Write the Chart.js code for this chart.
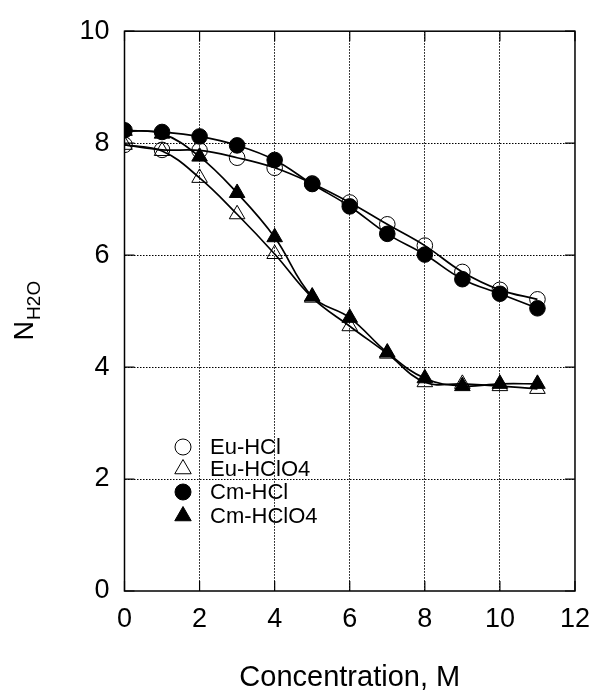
<!DOCTYPE html>
<html>
<head>
<meta charset="utf-8">
<script src="https://cdn.jsdelivr.net/npm/chart.js@4/dist/chart.umd.min.js"></script>
<style>
  html, body { margin: 0; padding: 0; background: #fff; }
  #wrap { width: 602px; height: 692px; }
</style>
</head>
<body>
<div id="wrap"><canvas id="chart" width="602" height="692"></canvas></div>
<script>
const concentration = [0, 1, 2, 3, 4, 5, 6, 7, 8, 9, 10, 11];
const euHCl   = [7.97, 7.88, 7.87, 7.74, 7.56, 7.28, 6.94, 6.55, 6.17, 5.70, 5.38, 5.21];
const euHClO4 = [7.97, 7.86, 7.38, 6.73, 6.02, 5.24, 4.73, 4.24, 3.73, 3.70, 3.66, 3.61];
const cmHCl   = [8.23, 8.20, 8.12, 7.96, 7.70, 7.27, 6.87, 6.38, 6.01, 5.57, 5.31, 5.05];
const cmHClO4 = [8.22, 8.17, 7.76, 7.11, 6.32, 5.26, 4.88, 4.26, 3.80, 3.66, 3.70, 3.70];
const xTicks = [0, 2, 4, 6, 8, 10, 12];
const yTicks = [0, 2, 4, 6, 8, 10];

const FONT = "'Liberation Sans', Arial, Helvetica, sans-serif";

function pts(vals) {
  return concentration.map((c, i) => ({ x: c, y: vals[i] }));
}

// label, values, marker style, filled?, draw order (lower = on top)
const series = [
  { label: 'Eu-HCl',   vals: euHCl,   style: 'circle',   filled: false, order: 4 },
  { label: 'Eu-HClO4', vals: euHClO4, style: 'triangle', filled: false, order: 3 },
  { label: 'Cm-HCl',   vals: cmHCl,   style: 'circle',   filled: true,  order: 2 },
  { label: 'Cm-HClO4', vals: cmHClO4, style: 'triangle', filled: true,  order: 1 }
];

const datasets = series.map(s => ({
  label: s.label,
  data: pts(s.vals),
  showLine: true,
  tension: 0.4,
  borderColor: '#000',
  borderWidth: 1.7,
  pointStyle: s.style,
  pointRadius: s.style === 'circle' ? 7.8 : 9,
  pointBorderWidth: 1,
  pointBorderColor: '#000',
  pointBackgroundColor: s.filled ? '#000' : 'rgba(0,0,0,0)',
  order: s.order
}));

// frame, inward ticks, y title and legend
const extras = {
  id: 'extras',
  afterDraw(chart) {
    const ctx = chart.ctx;
    const a = chart.chartArea;
    const xs = chart.scales.x, ys = chart.scales.y;
    ctx.save();
    ctx.strokeStyle = '#000';
    ctx.lineWidth = 1.5;
    ctx.strokeRect(a.left, a.top, a.right - a.left, a.bottom - a.top);
    ctx.lineWidth = 1.2;
    ctx.beginPath();
    yTicks.forEach(v => {
      const y = ys.getPixelForValue(v);
      ctx.moveTo(a.left, y); ctx.lineTo(a.left + 10, y);
      ctx.moveTo(a.right, y); ctx.lineTo(a.right - 10, y);
    });
    xTicks.forEach(v => {
      const x = xs.getPixelForValue(v);
      ctx.moveTo(x, a.bottom); ctx.lineTo(x, a.bottom - 10);
      ctx.moveTo(x, a.top); ctx.lineTo(x, a.top + 10);
    });
    ctx.stroke();

    // y axis title: N with subscript H2O
    ctx.fillStyle = '#000';
    ctx.textBaseline = 'alphabetic';
    ctx.font = '27px ' + FONT;
    const wN = ctx.measureText('N').width;
    ctx.font = '19px ' + FONT;
    const wS = ctx.measureText('H2O').width;
    const cy = (a.top + a.bottom) / 2;
    ctx.translate(33, cy + (wN + wS) / 2);
    ctx.rotate(-Math.PI / 2);
    ctx.font = '27px ' + FONT;
    ctx.fillText('N', 0, 0);
    ctx.font = '19px ' + FONT;
    ctx.fillText('H2O', wN + 1, 7);
    ctx.setTransform(1, 0, 0, 1, 0, 0);

    // legend inside the plot
    const rows = [447, 469, 492, 516];
    ctx.font = '22px ' + FONT;
    ctx.textBaseline = 'middle';
    series.forEach((s, i) => {
      ctx.fillStyle = s.filled ? '#000' : '#fff';
      ctx.strokeStyle = '#000';
      ctx.lineWidth = 1;
      Chart.helpers.drawPoint(ctx, {
        pointStyle: s.style,
        radius: s.style === 'circle' ? 8 : 9.5,
        rotation: 0,
        borderWidth: 1
      }, 183, rows[i]);
      ctx.fillStyle = '#000';
      ctx.fillText(s.label, 210, rows[i] + 1);
    });
    ctx.restore();
  }
};

new Chart(document.getElementById('chart'), {
  type: 'scatter',
  data: { datasets },
  plugins: [extras],
  options: {
    responsive: false,
    animation: false,
    layout: { padding: { top: 25, right: 19, left: 0, bottom: 0 } },
    plugins: { legend: { display: false }, tooltip: { enabled: false } },
    scales: {
      x: {
        type: 'linear', min: 0, max: 12,
        afterFit(scale) { scale.height = 101; },
        afterBuildTicks(scale) { scale.ticks = xTicks.map(v => ({ value: v })); },
        ticks: { color: '#000', font: { family: FONT, size: 27 }, padding: 12, maxRotation: 0 },
        grid: {
          color: c => (c.tick.value > 0 && c.tick.value < 12) ? '#000' : 'rgba(0,0,0,0)',
          lineWidth: 1, drawTicks: false
        },
        border: { display: false, dash: [1.5, 1.5] },
        title: {
          display: true, text: 'Concentration, M', color: '#000',
          font: { family: FONT, size: 29, lineHeight: 1 }, padding: 0
        }
      },
      y: {
        type: 'linear', min: 0, max: 10,
        afterFit(scale) { scale.width = 124.5; },
        afterBuildTicks(scale) { scale.ticks = yTicks.map(v => ({ value: v })); },
        ticks: { color: '#000', font: { family: FONT, size: 27 }, padding: 15 },
        grid: {
          color: c => (c.tick.value > 0 && c.tick.value < 10) ? '#000' : 'rgba(0,0,0,0)',
          lineWidth: 1, drawTicks: false
        },
        border: { display: false, dash: [1.5, 1.5] }
      }
    }
  }
});
</script>
</body>
</html>
